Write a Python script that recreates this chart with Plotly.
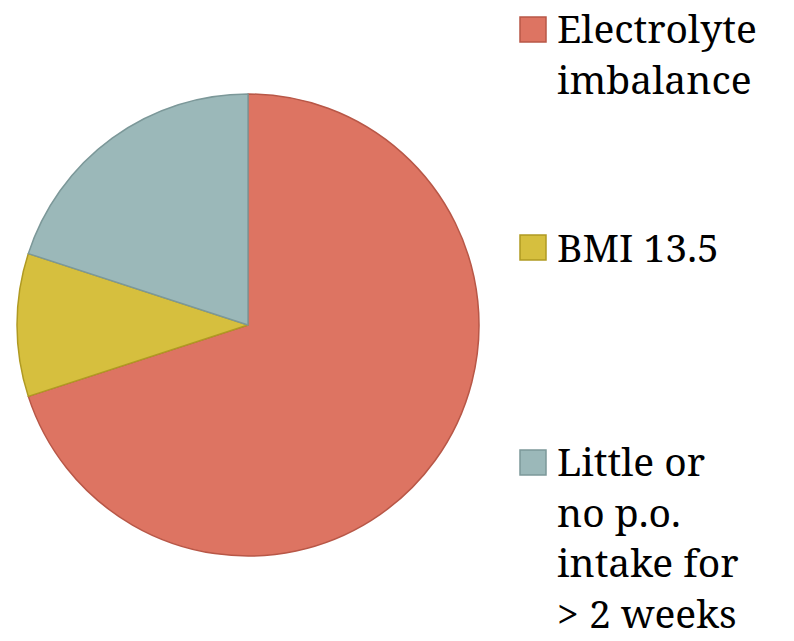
import plotly.graph_objects as go

# Slice data
labels = ["Electrolyte imbalance", "BMI 13.5", "Little or no p.o. intake for > 2 weeks"]
values = [70, 10, 20]
legend_lines = [
    ["Electrolyte", "imbalance"],
    ["BMI 13.5"],
    ["Little or", "no p.o.", "intake for", "> 2 weeks"],
]
fill_colors = ["#DD7462", "#D6BF3E", "#9BB8B9"]
edge_colors = ["#B85747", "#B09A22", "#7C9899"]

W, H = 794, 641
FONT = "Noto Serif"

fig = go.Figure()
fig.add_trace(go.Pie(
    labels=labels,
    values=values,
    sort=False,
    direction="clockwise",
    rotation=0,
    marker=dict(colors=fill_colors, line=dict(color=edge_colors, width=1.5)),
    textinfo="none",
    hoverinfo="label+percent",
    showlegend=False,
    domain=dict(x=[17 / W, 479 / W], y=[85 / H, 547 / H]),
))

# Custom legend: large swatches with wrapped serif labels
legend_tops = [17, 235, 450]   # swatch top edge, px from top
text_tops = [-1, 218, 432]     # label block top, px from top
sw = 26
for lines, fc, ec, st, tt in zip(legend_lines, fill_colors, edge_colors, legend_tops, text_tops):
    fig.add_shape(
        type="rect", xref="paper", yref="paper",
        x0=520 / W, x1=(520 + sw) / W,
        y0=1 - st / H, y1=1 - (st + sw - 1) / H,
        fillcolor=fc, line=dict(color=ec, width=1.5),
    )
    fig.add_annotation(
        xref="paper", yref="paper",
        x=555 / W, y=1 - tt / H,
        xanchor="left", yanchor="top",
        text="<br>".join(lines), align="left",
        showarrow=False,
        font=dict(family=FONT, size=39, color="#000000"),
    )

fig.update_layout(
    width=W, height=H,
    margin=dict(l=0, r=0, t=0, b=0),
    paper_bgcolor="white",
    plot_bgcolor="white",
)

fig.write_html("out.html")
